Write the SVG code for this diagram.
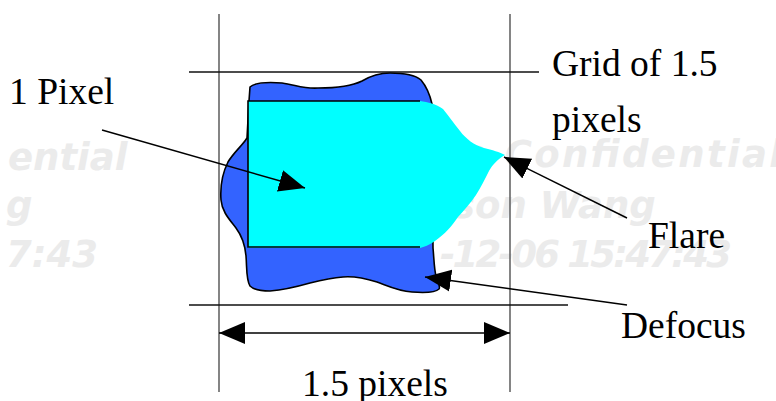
<svg xmlns="http://www.w3.org/2000/svg" width="776" height="401" viewBox="0 0 776 401">
<style>
.wm{font-family:"DejaVu Sans",sans-serif;font-weight:bold;font-style:italic;font-size:37px;fill:#ebebeb}
.lbl{font-family:"Liberation Serif","Times New Roman",serif;font-size:37.5px;fill:#000}
.grid{stroke:#666;stroke-width:1.6;fill:none}
.hline{stroke:#111;stroke-width:1.6;fill:none}
.arrow{stroke:#000;stroke-width:1.5;fill:none;marker-end:url(#ah)}
</style>
<defs>
<marker id="ah" markerUnits="userSpaceOnUse" markerWidth="27" markerHeight="24" refX="26" refY="12" orient="auto-start-reverse">
<path d="M0,1 L26,12 L0,23 z" fill="#000"/>
</marker>
</defs>
<rect width="776" height="401" fill="#fff"/>
<g id="watermark">
<text class="wm" x="8" y="170">ential</text>
<text class="wm" x="6" y="218">g</text>
<text class="wm" x="6" y="267">7:43</text>
<text class="wm" x="462" y="167" textLength="320">e Confidential</text>
<text class="wm" x="453" y="218">son Wang</text>
<text class="wm" x="440" y="267" textLength="292">-12-06 15:47:43</text>
</g>
<g id="grid">
<line class="grid" x1="219" y1="14" x2="219" y2="392"/>
<line class="grid" x1="510" y1="14" x2="510" y2="392"/>
<line class="hline" x1="189" y1="72" x2="539" y2="72"/>
<line class="hline" x1="189" y1="305" x2="568" y2="305"/>
</g>
<g id="defocus-blob">
<path d="M250,87 C254,83 268,82 282,83 C296,85 304,89 318,88 C338,88 352,86 362,81 C372,75 380,73 390,73 C402,73 414,74 421,80 C426,86 430,95 432,104 L433,248 C434,258 434,268 436,276 C437,282 441,286 439,289 C435,293 425,293 412,292 C398,291 388,286 377,282 C364,278 354,276 343,277 C330,278 322,280 310,283 C296,287 282,290 270,291 C262,291 254,290 250,286 C246,280 247,268 246,256 C245,244 242,236 236,228 C230,220 222,212 221,200 C220,186 222,174 228,162 C234,152 242,146 247,138 L249,101 Z" fill="#3363ff" stroke="#000" stroke-width="1.6"/>
</g>
<g id="pixel">
<path d="M248,101 L420,101 C428,102 436,104 443,109 C449,116 454,124 460,131 C466,139 474,145 484,148 C492,150 500,152 505,155 C498,159 493,164 489,171 C485,179 481,187 476,195 C470,204 464,210 458,217 C452,226 445,234 435,241 C429,245 424,247 420,248 L248,248 Z" fill="#00ffff"/>
<path d="M420,101 L248,101 L248,247 L420,247" fill="none" stroke="#000" stroke-width="1.6"/>
</g>
<g id="connectors">
<line class="arrow" x1="102" y1="130" x2="305" y2="188"/>
<line class="arrow" x1="627" y1="218" x2="504" y2="157"/>
<line class="arrow" x1="627" y1="305" x2="425" y2="277"/>
<line class="arrow" x1="219" y1="333" x2="510" y2="333" stroke="#333" marker-start="url(#ah)"/>
</g>
<g id="labels">
<text class="lbl" x="9" y="104">1 Pixel</text>
<text class="lbl" x="552" y="76">Grid of 1.5</text>
<text class="lbl" x="552" y="132">pixels</text>
<text class="lbl" x="648" y="248">Flare</text>
<text class="lbl" x="621" y="338">Defocus</text>
<text class="lbl" x="302" y="396">1.5 pixels</text>
</g>
</svg>
